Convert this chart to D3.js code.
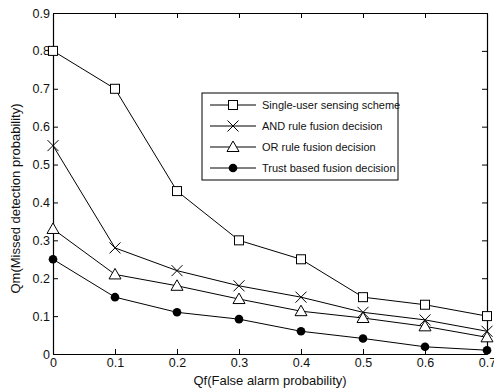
<!DOCTYPE html>
<html>
<head>
<meta charset="utf-8">
<script src="https://cdn.jsdelivr.net/npm/d3@7"></script>
<style>
  body { margin: 0; background: #fff; }
  text { font-family: "Liberation Sans", Arial, sans-serif; fill: #111; }
</style>
</head>
<body>
<div id="chart"></div>
<script>
// ---------------- data ----------------
var qf = [0, 0.1, 0.2, 0.3, 0.4, 0.5, 0.6, 0.7];
var singleUser = [0.80, 0.70, 0.43, 0.30, 0.25, 0.15, 0.13, 0.10];
var andRule    = [0.55, 0.28, 0.22, 0.18, 0.15, 0.11, 0.09, 0.06];
var orRule     = [0.33, 0.21, 0.18, 0.145, 0.113, 0.095, 0.073, 0.044];
var trustBased = [0.25, 0.15, 0.11, 0.092, 0.06, 0.041, 0.019, 0.01];
var seriesNames = ["Single-user sensing scheme", "AND rule fusion decision",
                   "OR rule fusion decision", "Trust based fusion decision"];
var xTicks = [0, 0.1, 0.2, 0.3, 0.4, 0.5, 0.6, 0.7];
var yTicks = [0, 0.1, 0.2, 0.3, 0.4, 0.5, 0.6, 0.7, 0.8, 0.9];

var series = [
  {name: seriesNames[0], values: singleUser, marker: "square"},
  {name: seriesNames[1], values: andRule, marker: "cross"},
  {name: seriesNames[2], values: orRule, marker: "triangle"},
  {name: seriesNames[3], values: trustBased, marker: "dot"}
];

// ---------------- canvas ----------------
var svgWidth = 494, svgHeight = 390;
var margin = {left: 53, right: 7, top: 13, bottom: 36};
var w = svgWidth - margin.left - margin.right,
    h = svgHeight - margin.top - margin.bottom;

var svg = d3.select("#chart").append("svg")
  .attr("width", svgWidth)
  .attr("height", svgHeight);

var g = svg.append("g")
  .attr("transform", `translate(${margin.left}, ${margin.top})`);

// ---------------- scales ----------------
var x = d3.scaleLinear().domain([0, 0.7]).range([0, w]);
var y = d3.scaleLinear().domain([0, 0.9]).range([h, 0]);

// ---------------- axes (box style, ticks inward) ----------------
var fmt = d => d === 0 ? "0" : d3.format(".1f")(d);

g.append("g")
  .attr("transform", `translate(0, ${h})`)
  .call(d3.axisBottom(x).tickValues(xTicks).tickFormat(fmt).tickSizeInner(-5).tickSizeOuter(0).tickPadding(4))
  .call(a => a.selectAll("text").style("font-size", "12.5px"));

g.append("g")
  .call(d3.axisLeft(y).tickValues(yTicks).tickFormat(fmt).tickSizeInner(-5).tickSizeOuter(0).tickPadding(3))
  .call(a => a.selectAll("text").style("font-size", "12.5px"));

g.append("g")
  .call(d3.axisTop(x).tickValues(xTicks).tickFormat("").tickSizeInner(-5).tickSizeOuter(0));

g.append("g")
  .attr("transform", `translate(${w}, 0)`)
  .call(d3.axisRight(y).tickValues(yTicks).tickFormat("").tickSizeInner(-5).tickSizeOuter(0));

g.selectAll(".domain").attr("stroke", "#000").attr("stroke-width", 1.2);
g.selectAll(".tick line").attr("stroke", "#000");

// ---------------- lines + markers ----------------
var line = d3.line()
  .x((d, i) => x(qf[i]))
  .y(d => y(d));

function drawMarker(sel, type) {
  if (type === "square") {
    sel.append("rect").attr("x", -4.5).attr("y", -4.5).attr("width", 9).attr("height", 9)
      .attr("fill", "#fff").attr("stroke", "#000");
  } else if (type === "cross") {
    sel.append("path").attr("d", "M-5.5,-5.5L5.5,5.5M-5.5,5.5L5.5,-5.5")
      .attr("stroke", "#000").attr("fill", "none");
  } else if (type === "triangle") {
    sel.append("path").attr("d", "M0,-6L6,4.5L-6,4.5Z")
      .attr("fill", "#fff").attr("stroke", "#000");
  } else {
    sel.append("circle").attr("r", 4.3).attr("fill", "#000");
  }
}

series.forEach(function(s) {
  g.append("path")
    .datum(s.values)
    .attr("d", line)
    .attr("fill", "none")
    .attr("stroke", "#000")
    .attr("stroke-width", 1);

  g.selectAll(null)
    .data(s.values)
    .enter()
    .append("g")
      .attr("transform", (d, i) => `translate(${x(qf[i])}, ${y(d)})`)
      .each(function() { drawMarker(d3.select(this), s.marker); });
});

// ---------------- legend ----------------
var legend = svg.append("g").attr("transform", "translate(202, 93)");
legend.append("rect")
  .attr("width", 196).attr("height", 87)
  .attr("fill", "#fff").attr("stroke", "#000");

series.forEach(function(s, i) {
  var row = legend.append("g").attr("transform", `translate(0, ${12 + i * 21})`);
  row.append("line").attr("x1", 8).attr("x2", 54).attr("stroke", "#000");
  drawMarker(row.append("g").attr("transform", "translate(31, 0)"), s.marker);
  row.append("text")
    .attr("x", 60).attr("dy", "0.35em")
    .style("font-size", "11px")
    .text(s.name);
});

// ---------------- labels ----------------
svg.append("text")
  .attr("x", margin.left + w / 2)
  .attr("y", 385)
  .attr("text-anchor", "middle")
  .style("font-size", "13px")
  .text("Qf(False alarm probability)");

svg.append("text")
  .attr("transform", `translate(20, ${margin.top + h / 2 + 15}) rotate(-90)`)
  .attr("text-anchor", "middle")
  .style("font-size", "13px")
  .text("Qm(Missed detection probability)");
</script>
</body>
</html>
